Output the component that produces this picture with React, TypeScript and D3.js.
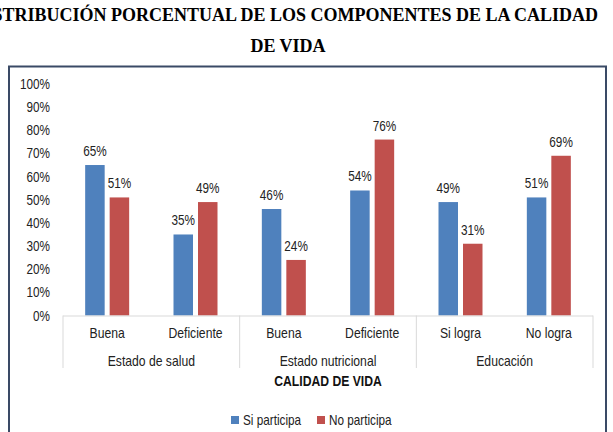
import React from "react";
import * as d3 from "d3";

const categories = ["Buena", "Deficiente", "Buena", "Deficiente", "Si logra", "No logra"];
const groups = ["Estado de salud", "Estado nutricional", "Educación"];
const siParticipa = [65, 35, 46, 54, 49, 51];
const noParticipa = [51, 49, 24, 76, 31, 69];
const seriesNames = ["Si participa", "No participa"];
const yTicks = [0, 10, 20, 30, 40, 50, 60, 70, 80, 90, 100];

const W = 613;
const H = 432;
const COLORS = ["#4F81BD", "#C0504D"];
const FONT = "'Liberation Sans', Arial, sans-serif";
const NARROW = 0.84;

type TxtProps = {
  x: number;
  y: number;
  anchor?: "start" | "middle" | "end";
  size: number;
  weight?: string;
  fill?: string;
  children: React.ReactNode;
};

// Condensed sans text: horizontally compressed around its anchor point
function Txt({ x, y, anchor = "start", size, weight = "normal", fill = "#222", children }: TxtProps) {
  return (
    <text
      transform={`translate(${x},${y}) scale(${NARROW},1)`}
      textAnchor={anchor}
      fontSize={size}
      fontWeight={weight}
      fill={fill}
    >
      {children}
    </text>
  );
}

export default function App() {
  const x = d3
    .scaleBand<number>()
    .domain(categories.map((_, i) => i))
    .range([63, 593])
    .paddingInner(0)
    .paddingOuter(0);
  const y = d3.scaleLinear().domain([0, 100]).range([315.5, 84]);
  const barW = 19.5;
  const gap = 5;
  const sub = d3
    .scaleOrdinal<number, number>()
    .domain([0, 1])
    .range([-(barW + gap / 2), gap / 2]);

  const series = [siParticipa, noParticipa];
  const perGroup = categories.length / groups.length;
  const groupEdges = d3.range(groups.length + 1).map((g) =>
    g === groups.length ? x.range()[1] : (x(g * perGroup) as number)
  );

  return (
    <svg
      width={W}
      height={H}
      style={{ position: "absolute", left: 0, top: 0, background: "#fff" }}
      fontFamily={FONT}
    >
      <text
        x={598}
        y={21}
        textAnchor="end"
        fontFamily="'Liberation Serif', 'Times New Roman', serif"
        fontWeight="bold"
        fontSize={18}
        fill="#000"
      >
        DISTRIBUCIÓN PORCENTUAL DE LOS COMPONENTES DE LA CALIDAD
      </text>
      <text
        x={288}
        y={52}
        textAnchor="middle"
        fontFamily="'Liberation Serif', 'Times New Roman', serif"
        fontWeight="bold"
        fontSize={18}
        fill="#000"
      >
        DE VIDA
      </text>

      <rect x={9} y={66.5} width={597} height={380} fill="#fff" stroke="#3a4a66" strokeWidth={2} />

      {yTicks.map((t) => (
        <Txt key={t} x={50} y={y(t) + 5} anchor="end" size={14}>
          {t}%
        </Txt>
      ))}

      {series.map((vals, s) =>
        vals.map((v, i) => {
          const cx = (x(i) as number) + x.bandwidth() / 2;
          const bx = cx + (sub(s) as number);
          return (
            <g key={`${s}-${i}`}>
              <rect x={bx} y={y(v)} width={barW} height={y(0) - y(v)} fill={COLORS[s]} />
              <Txt x={bx + barW / 2} y={y(v) - 9} anchor="middle" size={14}>
                {v}%
              </Txt>
            </g>
          );
        })
      )}

      <line x1={x.range()[0]} x2={x.range()[1]} y1={y(0) + 0.5} y2={y(0) + 0.5} stroke="#d9d9d9" />
      {groupEdges.map((gx, g) => (
        <line key={g} x1={gx} x2={gx} y1={y(0)} y2={368} stroke="#d9d9d9" />
      ))}

      {categories.map((c, i) => (
        <Txt key={i} x={(x(i) as number) + x.bandwidth() / 2} y={338} anchor="middle" size={14.5}>
          {c}
        </Txt>
      ))}
      {groups.map((g, gi) => (
        <Txt key={g} x={(groupEdges[gi] + groupEdges[gi + 1]) / 2} y={366} anchor="middle" size={14.5}>
          {g}
        </Txt>
      ))}
      <Txt x={328} y={386} anchor="middle" size={14.5} weight="bold" fill="#111">
        CALIDAD DE VIDA
      </Txt>

      {seriesNames.map((n, i) => {
        const lx = [231, 317][i];
        return (
          <g key={n}>
            <rect x={lx} y={416} width={8} height={8} fill={COLORS[i]} />
            <Txt x={lx + 12} y={425} size={14}>
              {n}
            </Txt>
          </g>
        );
      })}
    </svg>
  );
}
